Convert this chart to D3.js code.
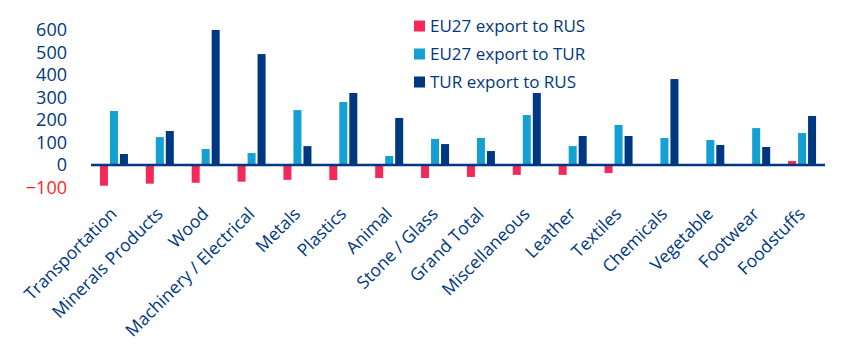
<!DOCTYPE html>
<html>
<head>
<meta charset="utf-8">
<script src="https://cdn.jsdelivr.net/npm/d3@7"></script>
<style>
  html, body { margin: 0; padding: 0; background: #fff; }
  svg { display: block; font-family: "Open Sans", "Noto Sans", sans-serif; }
</style>
</head>
<body>
<svg id="chart" width="845" height="352"></svg>
<script>
const categories = ["Transportation", "Minerals Products", "Wood", "Machinery / Electrical", "Metals", "Plastics", "Animal", "Stone / Glass", "Grand Total", "Miscellaneous", "Leather", "Textiles", "Chemicals", "Vegetable", "Footwear", "Foodstuffs"];
const seriesNames = ["EU27 export to RUS", "EU27 export to TUR", "TUR export to RUS"];
const eu27ToRus = [-92, -83, -79, -74, -66, -67, -58, -58, -53, -44, -44, -36, 0, 0, 0, 18];
const eu27ToTur = [240, 124, 71, 53, 244, 280, 40, 116, 120, 222, 84, 178, 120, 111, 164, 142];
const turToRus = [49, 151, 600, 493, 84, 320, 209, 93, 62, 320, 129, 129, 382, 89, 80, 218];
const yTicks = [-100, 0, 100, 200, 300, 400, 500, 600];
const colors = ["#f5285a", "#13a0d3", "#003781"];

const svg = d3.select("#chart");
const x0 = d3.scaleBand().domain(categories).range([91, 825]);
const x1 = d3.scaleBand().domain(seriesNames).range([0, 28]).paddingInner(0.2);
const y = d3.scaleLinear().domain([-100, 600]).range([187.5, 30]);

const seriesData = [eu27ToRus, eu27ToTur, turToRus];

const groups = svg.append("g").selectAll("g")
  .data(categories)
  .join("g")
  .attr("transform", d => `translate(${x0(d) + x0.bandwidth() / 2 - 14},0)`);

groups.selectAll("rect")
  .data((d, i) => seriesNames.map((s, k) => ({ s, k, v: seriesData[k][i] })))
  .join("rect")
  .attr("x", d => x1(d.s))
  .attr("width", x1.bandwidth())
  .attr("y", d => Math.min(y(0), y(d.v)))
  .attr("height", d => Math.abs(y(d.v) - y(0)))
  .attr("fill", d => colors[d.k]);

// zero line
svg.append("line")
  .attr("x1", 91).attr("x2", 825)
  .attr("y1", y(0)).attr("y2", y(0))
  .attr("stroke", "#003781").attr("stroke-width", 2.5);

// y axis labels
const yAxis = d3.axisLeft(y).tickValues(yTicks).tickSize(0).tickPadding(0);
const yg = svg.append("g").attr("transform", "translate(67,0)").call(yAxis);
yg.select(".domain").remove();
yg.selectAll("text")
  .attr("font-size", 18)
  .attr("font-family", "\"Open Sans\", sans-serif")
  .attr("fill", d => d < 0 ? "#ff1f1f" : "#003781");

// x labels
const xAxis = d3.axisBottom(x0).tickSize(0).tickPadding(0);
const xg = svg.append("g").attr("transform", `translate(0,${y(0)})`).call(xAxis);
xg.select(".domain").remove();
xg.selectAll("text")
  .attr("font-size", 17.5)
  .attr("font-family", "\"Open Sans\", sans-serif")
  .attr("fill", "#003781")
  .attr("text-anchor", "end")
  .attr("dy", null)
  .attr("y", 0)
  .attr("transform", "translate(4,50) rotate(-45)");

// legend
const legend = svg.append("g").attr("transform", "translate(414,26)");
const li = legend.selectAll("g").data(seriesNames).join("g")
  .attr("transform", (d, i) => `translate(0,${i * 28})`);
li.append("rect").attr("x", 0).attr("y", -5.5).attr("width", 11).attr("height", 11)
  .attr("fill", (d, i) => colors[i]);
li.append("text").attr("x", 16).attr("y", 0).attr("dy", "0.35em")
  .attr("font-size", 17).attr("fill", "#003781").text(d => d);
</script>
</body>
</html>
